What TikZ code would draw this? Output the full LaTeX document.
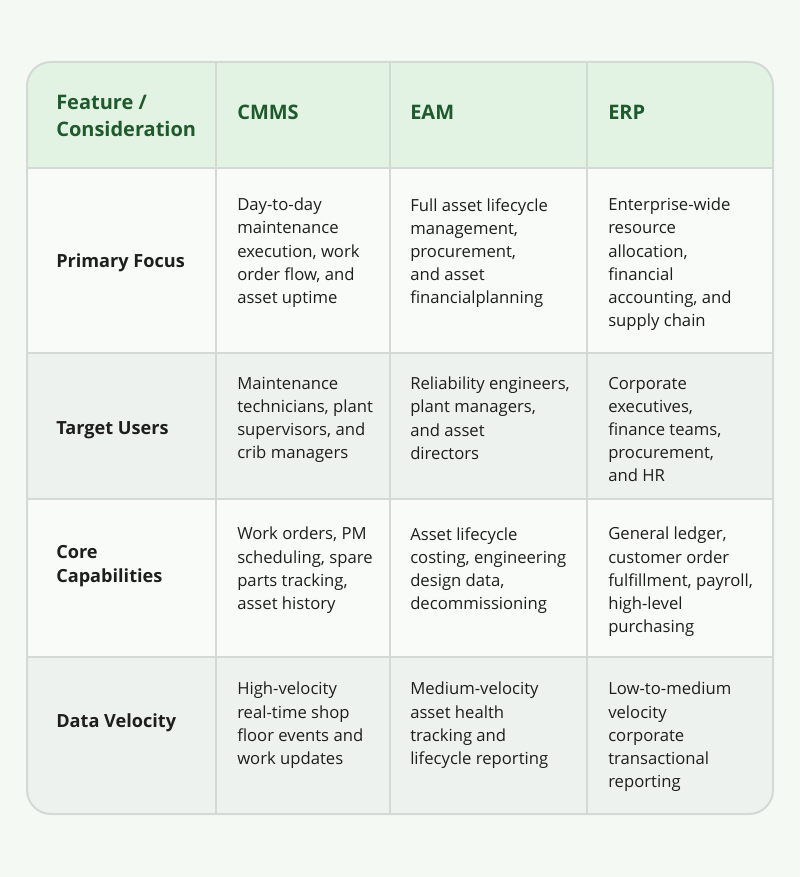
\documentclass[tikz,border=0pt]{standalone}
\usepackage{fontspec}
\setmainfont{Open Sans}
\definecolor{bgc}{HTML}{F4F9F4}
\definecolor{hdr}{HTML}{E2F3E4}
\definecolor{rowa}{HTML}{F8FBF8}
\definecolor{rowb}{HTML}{EEF2EE}
\definecolor{grid}{HTML}{D2DAD3}
\definecolor{hgreen}{HTML}{1F5A2C}
\definecolor{txt}{HTML}{1E1E1E}
\begin{document}
\begin{tikzpicture}[x=0.75pt,y=-0.75pt,
  cell/.style={anchor=north west,align=left,inner sep=0pt,text=txt,font=\fontsize{12.5}{17.3}\selectfont},
  lab/.style={anchor=west,align=left,inner sep=0pt,text=txt,font=\fontsize{13.6}{18}\selectfont\bfseries},
  head/.style={anchor=west,align=left,inner sep=0pt,text=hgreen,font=\fontsize{15}{20.5}\selectfont\bfseries}]
\fill[bgc] (0,0) rectangle (800,877);
\useasboundingbox (0,0) rectangle (800,877);
\begin{scope}
\clip[rounded corners=18] (27,62) rectangle (773,814);
\fill[hdr] (27,62) rectangle (773,168);
\fill[rowa] (27,168) rectangle (773,353);
\fill[rowb] (27,353) rectangle (773,499);
\fill[rowa] (27,499) rectangle (773,657);
\fill[rowb] (27,657) rectangle (773,814);
\foreach \y in {168,353,499,657} \draw[grid,line width=0.8pt] (27,\y) -- (773,\y);
\foreach \x in {216,390,587} \draw[grid,line width=0.8pt] (\x,62) -- (\x,814);
\end{scope}
\draw[grid,line width=1.5pt,rounded corners=18] (27,62) rectangle (773,814);
\node[head] (h0) at (56,116) {Feature /\\Consideration};
\node[head] (h1) at (237,112) {CMMS};
\node[head] (h2) at (410,112) {EAM};
\node[head] (h3) at (608,112) {ERP};
\node[lab] (r1) at (56,263) {Primary Focus};
\node[lab] (r2) at (56,430) {Target Users};
\node[lab] (r3) at (56,566) {Core\\Capabilities};
\node[lab] (r4) at (56,723) {Data Velocity};
\node[cell] (c11) at (237,198) {Day-to-day\\maintenance\\execution, work\\order flow, and\\asset uptime};
\node[cell] (c12) at (410,198) {Full asset lifecycle\\management,\\procurement,\\and asset\\financialplanning};
\node[cell] (c13) at (608,198) {Enterprise-wide\\resource\\allocation,\\financial\\accounting, and\\supply chain};
\node[cell] (c21) at (237,377) {Maintenance\\technicians, plant\\supervisors, and\\crib managers};
\node[cell] (c22) at (410,377) {Reliability engineers,\\plant managers,\\and asset\\directors};
\node[cell] (c23) at (608,377) {Corporate\\executives,\\finance teams,\\procurement,\\and HR};
\node[cell] (c31) at (237,527) {Work orders, PM\\scheduling, spare\\parts tracking,\\asset history};
\node[cell] (c32) at (410,527) {Asset lifecycle\\costing, engineering\\design data,\\decommissioning};
\node[cell] (c33) at (608,527) {General ledger,\\customer order\\fulfillment, payroll,\\high-level\\purchasing};
\node[cell] (c41) at (237,682) {High-velocity\\real-time shop\\floor events and\\work updates};
\node[cell] (c42) at (410,682) {Medium-velocity\\asset health\\tracking and\\lifecycle reporting};
\node[cell] (c43) at (608,682) {Low-to-medium\\velocity\\corporate\\transactional\\reporting};
\end{tikzpicture}
\end{document}
